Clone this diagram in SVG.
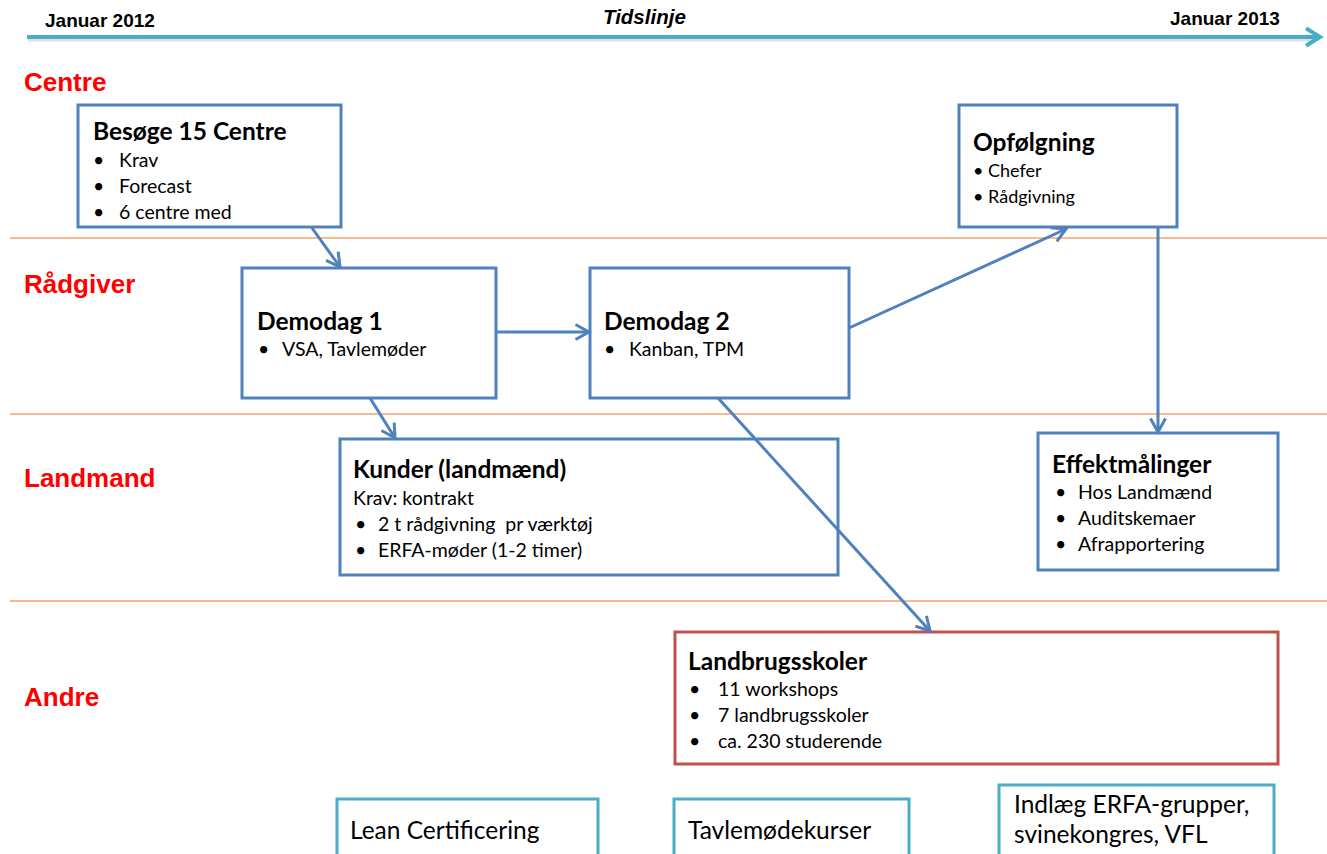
<svg xmlns="http://www.w3.org/2000/svg" width="1327" height="854" viewBox="0 0 1327 854">
<style>
.hdr{font-family:"Liberation Sans",Arial,sans-serif;font-weight:bold;font-size:19px;fill:#000}
.lane{font-family:"Liberation Sans",Arial,sans-serif;font-weight:bold;font-size:26px;fill:#FF0000}
.sep{stroke:#F4A56A;stroke-width:1.3}
.box{fill:#fff;stroke:#4F81BD;stroke-width:3}
.rbox{fill:#fff;stroke:#C0504D;stroke-width:3}
.tbox{fill:#fff;stroke:#4BACC6;stroke-width:3}
.ttl{font-family:Lato,"Open Sans",sans-serif;font-weight:bold;font-size:24.5px;fill:#000}
.txt{font-family:Lato,"Open Sans",sans-serif;font-size:19.5px;fill:#000;white-space:pre}
.nar{font-family:Lato,"Open Sans",sans-serif;font-size:18px;fill:#000}
.big{font-family:Lato,"Open Sans",sans-serif;font-size:24.5px;fill:#000}
.con{stroke:#4F81BD;stroke-width:3;fill:none;marker-end:url(#ah)}
</style>
<defs>
<marker id="ah" markerWidth="6" markerHeight="6" refX="5" refY="3" orient="auto" markerUnits="strokeWidth" viewBox="0 0 6 6">
<path d="M0.5,0.5 L5,3 L0.5,5.5" fill="none" stroke="#4F81BD" stroke-width="1"/>
</marker>
<marker id="tl" markerWidth="6" markerHeight="6" refX="4.5" refY="3" orient="auto" markerUnits="strokeWidth" viewBox="0 0 6 6">
<path d="M1,0.8 L4.5,3 L1,5.2" fill="none" stroke="#4BACC6" stroke-width="1"/>
</marker>
</defs>
<rect width="1327" height="854" fill="#fff"/>

<g id="timeline">
<line x1="28" y1="40" x2="1316" y2="40" stroke="#000" stroke-opacity="0.12" stroke-width="3"/>
<line x1="27" y1="37" x2="1320" y2="37" stroke="#4BACC6" stroke-width="4" marker-end="url(#tl)"/>
<text class="hdr" x="45" y="26.5">Januar 2012</text>
<text class="hdr" x="603" y="24" font-style="italic" style="font-size:20.5px">Tidslinje</text>
<text class="hdr" x="1170" y="25">Januar 2013</text>
</g>

<g id="lanes">
<line class="sep" x1="10" y1="238" x2="1327" y2="238"/>
<line class="sep" x1="10" y1="414" x2="1327" y2="414"/>
<line class="sep" x1="10" y1="601" x2="1327" y2="601"/>
<text class="lane" x="24" y="91">Centre</text>
<text class="lane" x="24" y="293">Rådgiver</text>
<text class="lane" x="24" y="487">Landmand</text>
<text class="lane" x="24" y="706">Andre</text>
</g>

<g id="besoege">
<rect class="box" x="78" y="105" width="263" height="122"/>
<text class="ttl" x="93" y="140">Besøge 15 Centre</text>
<text class="txt" x="93" y="167">•</text><text class="txt" x="119" y="167">Krav</text>
<text class="txt" x="93" y="193">•</text><text class="txt" x="119" y="193">Forecast</text>
<text class="txt" x="93" y="219">•</text><text class="txt" x="119" y="219">6 centre med</text>
</g>

<g id="demodag1">
<rect class="box" x="242" y="268" width="254" height="130"/>
<text class="ttl" x="257" y="330">Demodag 1</text>
<text class="txt" x="258" y="356">•</text><text class="txt" x="282" y="356">VSA, Tavlemøder</text>
</g>

<g id="demodag2">
<rect class="box" x="590" y="268" width="259" height="130"/>
<text class="ttl" x="604" y="330">Demodag 2</text>
<text class="txt" x="604" y="356">•</text><text class="txt" x="629" y="356">Kanban, TPM</text>
</g>

<g id="opfoelgning">
<rect class="box" x="959" y="105" width="218" height="122"/>
<text class="ttl" x="973" y="151">Opfølgning</text>
<text class="nar" x="973" y="177">• Chefer</text>
<text class="nar" x="973" y="203">• Rådgivning</text>
</g>

<g id="kunder">
<rect class="box" x="340" y="439" width="498" height="136"/>
<text class="ttl" x="353" y="478">Kunder (landmænd)</text>
<text class="txt" x="353" y="505">Krav: kontrakt</text>
<text class="txt" x="355" y="531">•</text><text class="txt" x="378" y="531" xml:space="preserve">2 t rådgivning  pr værktøj</text>
<text class="txt" x="355" y="557">•</text><text class="txt" x="378" y="557">ERFA-møder (1-2 timer)</text>
</g>

<g id="effekt">
<rect class="box" x="1038" y="433" width="240" height="137"/>
<text class="ttl" x="1052" y="473">Effektmålinger</text>
<text class="txt" x="1055" y="499">•</text><text class="txt" x="1078" y="499">Hos Landmænd</text>
<text class="txt" x="1055" y="525">•</text><text class="txt" x="1078" y="525">Auditskemaer</text>
<text class="txt" x="1055" y="551">•</text><text class="txt" x="1078" y="551">Afrapportering</text>
</g>

<g id="landbrug">
<rect class="rbox" x="675" y="632" width="603" height="132"/>
<text class="ttl" x="688" y="670">Landbrugsskoler</text>
<text class="txt" x="689" y="696">•</text><text class="txt" x="718" y="696">11 workshops</text>
<text class="txt" x="689" y="722">•</text><text class="txt" x="718" y="722">7 landbrugsskoler</text>
<text class="txt" x="689" y="748">•</text><text class="txt" x="718" y="748">ca. 230 studerende</text>
</g>

<g id="lean">
<rect class="tbox" x="337" y="799" width="261" height="70"/>
<text class="big" x="350" y="839">Lean Certificering</text>
</g>

<g id="tavle">
<rect class="tbox" x="674" y="799" width="235" height="70"/>
<text class="big" x="688" y="839">Tavlemødekurser</text>
</g>

<g id="indlaeg">
<rect class="tbox" x="999" y="785" width="275" height="84"/>
<text class="big" x="1014" y="813">Indlæg ERFA-grupper,</text>
<text class="big" x="1014" y="843">svinekongres, VFL</text>
</g>

<g id="connectors">
<line class="con" x1="312" y1="228" x2="340" y2="267"/>
<line class="con" x1="496" y1="332" x2="589" y2="332"/>
<line class="con" x1="849" y1="328" x2="1066" y2="229"/>
<line class="con" x1="1158" y1="227" x2="1158" y2="432"/>
<line class="con" x1="370" y1="398" x2="395" y2="438"/>
<line class="con" x1="718" y1="398" x2="930" y2="631"/>
</g>
</svg>
